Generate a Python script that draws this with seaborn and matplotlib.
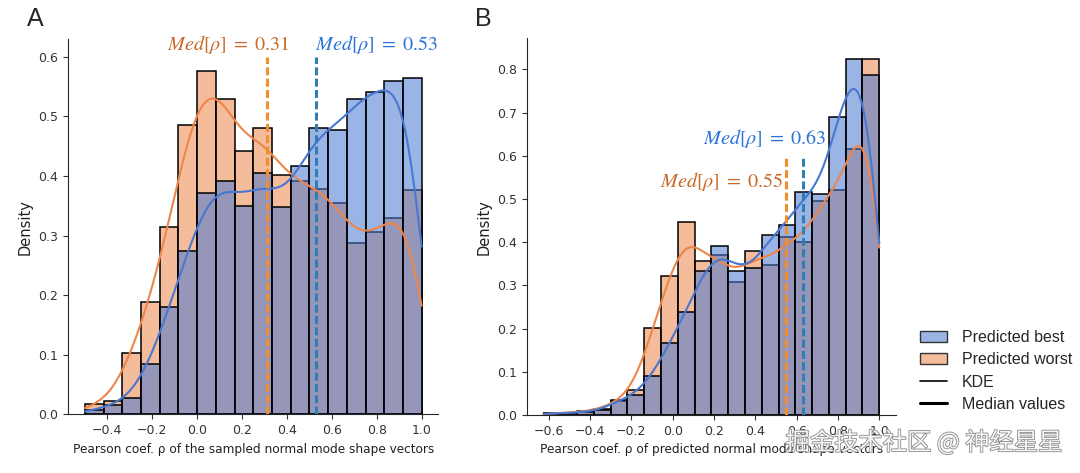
import numpy as np
import pandas as pd
import matplotlib
matplotlib.use("Agg")
import matplotlib.pyplot as plt
import seaborn as sns
from matplotlib.patches import Patch
from matplotlib.lines import Line2D
from matplotlib.colors import to_rgba
import matplotlib.patheffects as pe

# ---------------- data ----------------
groups = ["Predicted best", "Predicted worst"]

# Panel A: 18 bins from -0.5 to 1.0 (density values)
a_range = (-0.5, 1.0)
a_nbins = 18
a_best = [0.008, 0.015, 0.027, 0.085, 0.180, 0.274, 0.372, 0.392, 0.351,
          0.406, 0.349, 0.417, 0.482, 0.478, 0.530, 0.542, 0.561, 0.566]
a_worst = [0.018, 0.023, 0.104, 0.189, 0.316, 0.486, 0.577, 0.530, 0.443,
           0.482, 0.403, 0.392, 0.379, 0.355, 0.288, 0.307, 0.330, 0.378]
a_median_best = 0.53
a_median_worst = 0.31

# Panel B: 20 bins from -0.625 to 1.0
b_range = (-0.625, 1.0)
b_nbins = 20
b_best = [0.005, 0.004, 0.007, 0.012, 0.035, 0.046, 0.091, 0.168, 0.239, 0.336,
          0.394, 0.336, 0.343, 0.419, 0.442, 0.519, 0.515, 0.694, 0.831, 0.792]
b_worst = [0.005, 0.004, 0.009, 0.014, 0.033, 0.059, 0.204, 0.324, 0.451, 0.359,
           0.374, 0.309, 0.383, 0.350, 0.414, 0.403, 0.498, 0.524, 0.620, 0.831]
b_median_best = 0.63
b_median_worst = 0.55

xlabel_a = "Pearson coef. ρ of the sampled normal mode shape vectors"
xlabel_b = "Pearson coef. ρ of predicted normal mode shape vectors"
watermark = "掘金技术社区 @ 神经星星"

# ---------------- style ----------------
sns.set_style("ticks")
plt.rcParams["font.family"] = ["DejaVu Sans"]
plt.rcParams["xtick.labelsize"] = 9
plt.rcParams["ytick.labelsize"] = 9
plt.rcParams["xtick.color"] = "#333333"
plt.rcParams["ytick.color"] = "#333333"

muted = sns.color_palette("muted")
palette = {groups[0]: muted[0], groups[1]: muted[1]}
ALPHA = 0.55
med_line_col = {"best": "#2f7fb5", "worst": "#f28e2b"}
med_text_col = {"best": "#2a73d9", "worst": "#c9692a"}

fig = plt.figure(figsize=(10.8, 4.73), dpi=100)
axA = fig.add_axes([0.063, 0.124, 0.343, 0.794])
axB = fig.add_axes([0.4877, 0.1226, 0.342, 0.7964])


def make_df(best, worst, rng, nb):
    edges = np.linspace(rng[0], rng[1], nb + 1)
    centers = (edges[:-1] + edges[1:]) / 2
    df = pd.DataFrame({
        "rho": np.concatenate([centers, centers]),
        "w": list(best) + list(worst),
        "group": [groups[0]] * len(best) + [groups[1]] * len(worst),
    })
    return df


def med_label(v):
    return r"$Med[\rho]\;=\;%.2f$" % v


def panel(ax, best, worst, rng, nb, bw, med_best, med_worst, ylim, xlabel):
    df = make_df(best, worst, rng, nb)
    sns.histplot(data=df, x="rho", weights="w", hue="group", hue_order=groups,
                 bins=nb, binrange=rng, stat="density", common_norm=True, kde=True,
                 kde_kws=dict(bw_adjust=bw, cut=3, clip=rng),
                 line_kws=dict(linewidth=1.5),
                 palette=palette, alpha=ALPHA, edgecolor="black", linewidth=1.1,
                 legend=False, ax=ax)
    ax.vlines(med_worst, 0, 0.6, colors=med_line_col["worst"], linewidth=2.2,
              linestyles=(0, (2.6, 1.1)), zorder=5)
    ax.vlines(med_best, 0, 0.6, colors=med_line_col["best"], linewidth=2.2,
              linestyles=(0, (2.6, 1.1)), zorder=5)
    ax.set_ylim(*ylim)
    ax.set_xlabel(xlabel, fontsize=8.7, color="#222222")
    ax.set_ylabel("Density", fontsize=10.5, color="#222222")
    sns.despine(ax=ax)


panel(axA, a_best, a_worst, a_range, a_nbins, 0.36, a_median_best, a_median_worst,
      (0, 0.63), xlabel_a)
axA.set_xticks([-0.4, -0.2, 0.0, 0.2, 0.4, 0.6, 0.8, 1.0])
axA.set_yticks([0.0, 0.1, 0.2, 0.3, 0.4, 0.5, 0.6])
axA.text(0.41, 0.621, med_label(a_median_worst), ha="right", va="center",
         fontsize=14.5, color=med_text_col["worst"], math_fontfamily="stix", clip_on=False)
axA.text(0.525, 0.621, med_label(a_median_best), ha="left", va="center",
         fontsize=14.5, color=med_text_col["best"], math_fontfamily="stix", clip_on=False)

panel(axB, b_best, b_worst, b_range, b_nbins, 0.33, b_median_best, b_median_worst,
      (0, 0.872), xlabel_b)
axB.set_xticks([-0.6, -0.4, -0.2, 0.0, 0.2, 0.4, 0.6, 0.8, 1.0])
axB.set_yticks([0.0, 0.1, 0.2, 0.3, 0.4, 0.5, 0.6, 0.7, 0.8])
axB.text(0.745, 0.64, med_label(b_median_best), ha="right", va="center",
         fontsize=14.5, color=med_text_col["best"], math_fontfamily="stix", clip_on=False)
axB.text(0.535, 0.54, med_label(b_median_worst), ha="right", va="center",
         fontsize=14.5, color=med_text_col["worst"], math_fontfamily="stix", clip_on=False)

# panel letters
fig.text(35 / 1080, 1 - 19 / 473, "A", fontsize=18, ha="center", va="center",
         family=["Liberation Sans", "DejaVu Sans"])
fig.text(483 / 1080, 1 - 19 / 473, "B", fontsize=18, ha="center", va="center",
         family=["Liberation Sans", "DejaVu Sans"])

# legend
handles = [
    Patch(facecolor=to_rgba(palette[groups[0]], ALPHA), edgecolor="#333333", linewidth=1.0),
    Patch(facecolor=to_rgba(palette[groups[1]], ALPHA), edgecolor="#333333", linewidth=1.0),
    Line2D([], [], color="black", linewidth=1.2),
    Line2D([], [], color="black", linewidth=2.2),
]
labels = groups + ["KDE", "Median values"]
fig.legend(handles, labels, loc="upper left", bbox_to_anchor=(0.852, 0.302),
           frameon=False, labelspacing=0.45, handlelength=1.7,
           handletextpad=0.9, borderaxespad=0, borderpad=0,
           prop=dict(family=["Liberation Sans", "DejaVu Sans"], size=11.5))

# watermark
fig.text(1062 / 1080, 1 - 443 / 473, watermark, ha="right", va="center", fontsize=17.5,
         color="#f6f6f6", family=["Noto Sans CJK SC", "DejaVu Sans"],
         path_effects=[pe.withStroke(linewidth=1.2, foreground="#8a8a8a")])

fig.savefig("out.png", dpi=100)
